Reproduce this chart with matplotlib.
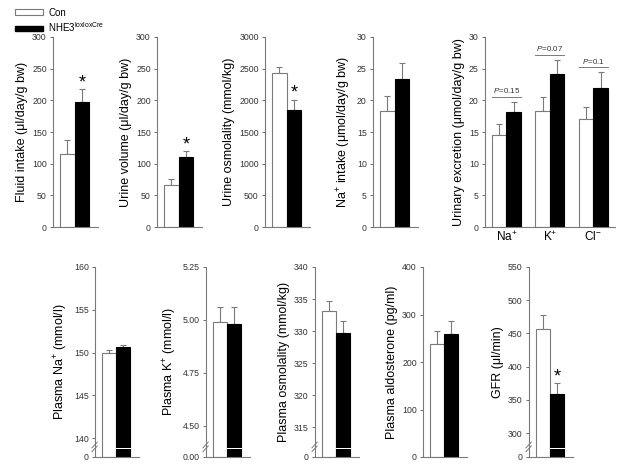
import numpy as np
import matplotlib.pyplot as plt
from matplotlib.patches import Patch

plt.rcParams['font.family'] = ['Liberation Sans', 'DejaVu Sans']
plt.rcParams['mathtext.fontset'] = 'custom'
plt.rcParams['mathtext.rm'] = 'Liberation Sans'
plt.rcParams['mathtext.it'] = 'Liberation Sans:italic'

# ---- data (mean, SEM) : Con vs NHE3 loxloxCre ----
fluid_mean = [115, 198]
fluid_err = [23, 20]
urine_vol_mean = [67, 110]
urine_vol_err = [9, 10]
urine_osm_mean = [2430, 1850]
urine_osm_err = [90, 160]
na_intake_mean = [18.3, 23.3]
na_intake_err = [2.4, 2.6]

ions = ['Na$^{+}$', 'K$^{+}$', 'Cl$^{-}$']
excr_con_mean = [14.6, 18.3, 17.0]
excr_con_err = [1.6, 2.2, 2.0]
excr_ko_mean = [18.2, 24.1, 22.0]
excr_ko_err = [1.6, 2.2, 2.4]
excr_p = ['0.15', '0.07', '0.1']

pna_mean = [149.9, 150.6]
pna_err = [0.4, 0.3]
pk_mean = [4.99, 4.98]
pk_err = [0.07, 0.08]
posm_mean = [333.2, 329.7]
posm_err = [1.5, 1.9]
aldo_mean = [237, 259]
aldo_err = [28, 27]
gfr_mean = [457, 358]
gfr_err = [20, 17]

GRAY = '#7a7a7a'
W, H = 624, 474
fig = plt.figure(figsize=(W / 100, H / 100), dpi=100)


def make_ax(left_px, top_px, width_px, height_px=190):
    return fig.add_axes([left_px / W, 1 - (top_px + height_px) / H,
                         width_px / W, height_px / H])


def style(ax, ylabel):
    for s in ['top', 'right']:
        ax.spines[s].set_visible(False)
    for s in ['left', 'bottom']:
        ax.spines[s].set_color(GRAY)
        ax.spines[s].set_linewidth(0.8)
    ax.tick_params(axis='y', labelsize=6.3, colors='#555555', length=2.5,
                   width=0.6, pad=2)
    ax.tick_params(axis='y', labelcolor='#333333')
    ax.set_ylabel(ylabel, fontsize=9, labelpad=3)


def pair(ax, means, errs, x0=0):
    xs = [x0, x0 + 1]
    ax.bar(xs, means, width=1.0, color=['white', 'black'],
           edgecolor=[GRAY, 'black'], linewidth=0.8, zorder=2)
    ax.errorbar(xs, means, yerr=[np.zeros(2), errs], fmt='none',
                ecolor=GRAY, elinewidth=0.8, capsize=2.5, capthick=0.8,
                zorder=1)


def star(ax, x, top):
    ax.annotate('*', (x, top), xytext=(0, -1.5), textcoords='offset points',
                ha='center', va='bottom', fontsize=13)


def broken_scale(ax, lo, hi, b):
    def fwd(v):
        v = np.asarray(v, dtype=float)
        return np.where(v < lo, v / lo * b, b + (v - lo) / (hi - lo) * (1 - b))

    def inv(f):
        f = np.asarray(f, dtype=float)
        return np.where(f < b, f / b * lo, lo + (f - b) / (1 - b) * (hi - lo))

    ax.set_yscale('function', functions=(fwd, inv))
    ax.set_ylim(0, hi)


def break_marks(ax, b, lo):
    # white gap across the black bar
    g0, g1 = lo * 0.72, lo * 0.86
    ax.bar([1], [g1 - g0], bottom=[g0], width=1.02, color='white',
           linewidth=0, zorder=3)
    for dy in (-0.012, 0.008):
        ax.plot([-0.07, 0.05], [b + dy - 0.015, b + dy + 0.015],
                transform=ax.transAxes, color=GRAY, lw=0.7, clip_on=False,
                zorder=5)


XL = (-0.97, 2.1)

# ---------- top row ----------
ax = make_ax(53, 37, 45)
pair(ax, fluid_mean, fluid_err)
star(ax, 1, fluid_mean[1] + fluid_err[1])
ax.set_ylim(0, 300)
ax.set_yticks(np.arange(0, 301, 50))
ax.set_xlim(*XL)
ax.set_xticks([])
style(ax, 'Fluid intake (μl/day/g bw)')

ax = make_ax(157, 37, 45)
pair(ax, urine_vol_mean, urine_vol_err)
star(ax, 1, urine_vol_mean[1] + urine_vol_err[1])
ax.set_ylim(0, 300)
ax.set_yticks(np.arange(0, 301, 50))
ax.set_xlim(*XL)
ax.set_xticks([])
style(ax, 'Urine volume (μl/day/g bw)')

ax = make_ax(265, 37, 45)
pair(ax, urine_osm_mean, urine_osm_err)
star(ax, 1, urine_osm_mean[1] + urine_osm_err[1])
ax.set_ylim(0, 3000)
ax.set_yticks(np.arange(0, 3001, 500))
ax.set_xlim(*XL)
ax.set_xticks([])
style(ax, 'Urine osmolality (mmol/kg)')

ax = make_ax(373, 37, 45)
pair(ax, na_intake_mean, na_intake_err)
ax.set_ylim(0, 30)
ax.set_yticks(np.arange(0, 31, 5))
ax.set_xlim(*XL)
ax.set_xticks([])
style(ax, 'Na$^{+}$ intake (μmol/day/g bw)')

ax = make_ax(485, 37, 130)
for i in range(3):
    pair(ax, [excr_con_mean[i], excr_ko_mean[i]],
         [excr_con_err[i], excr_ko_err[i]], x0=3 * i)
    ytop = max(excr_con_mean[i] + excr_con_err[i],
               excr_ko_mean[i] + excr_ko_err[i]) + 0.8
    ax.plot([3 * i - 0.5, 3 * i + 1.5], [ytop, ytop], color=GRAY, lw=0.7)
    ax.text(3 * i + 0.5, ytop + 0.3, '$P$=' + excr_p[i], ha='center',
            va='bottom', fontsize=5.8, color='#333333')
ax.set_ylim(0, 30)
ax.set_yticks(np.arange(0, 31, 5))
ax.set_xlim(-0.98, 8.0)
ax.set_xticks([0.5, 3.5, 6.5])
ax.set_xticklabels(ions, fontsize=8.5)
ax.tick_params(axis='x', length=0, pad=2)
style(ax, 'Urinary excretion (μmol/day/g bw)')

# ---------- bottom row ----------
B = 0.055

ax = make_ax(95, 267, 44)
broken_scale(ax, 139.0, 160, B)
pair(ax, pna_mean, pna_err)
break_marks(ax, B, 139.0)
ax.set_yticks([0, 140, 145, 150, 155, 160])
ax.set_xlim(*XL)
ax.set_xticks([])
style(ax, 'Plasma Na$^{+}$ (mmol/l)')

ax = make_ax(206, 267, 44)
broken_scale(ax, 4.403, 5.25, B)
pair(ax, pk_mean, pk_err)
break_marks(ax, B, 4.403)
ax.set_yticks([0, 4.5, 4.75, 5.0, 5.25])
ax.set_yticklabels(['0.00', '4.50', '4.75', '5.00', '5.25'])
ax.set_xlim(*XL)
ax.set_xticks([])
style(ax, 'Plasma K$^{+}$ (mmol/l)')

ax = make_ax(315, 267, 44)
broken_scale(ax, 311.95, 340, B)
pair(ax, posm_mean, posm_err)
break_marks(ax, B, 311.95)
ax.set_yticks([0, 315, 320, 325, 330, 335, 340])
ax.set_xlim(*XL)
ax.set_xticks([])
style(ax, 'Plasma osmolality (mmol/kg)')

ax = make_ax(423, 267, 44)
pair(ax, aldo_mean, aldo_err)
ax.set_ylim(0, 400)
ax.set_yticks(np.arange(0, 401, 100))
ax.set_xlim(*XL)
ax.set_xticks([])
style(ax, 'Plasma aldosterone (pg/ml)')

ax = make_ax(529, 267, 44)
broken_scale(ax, 279.6, 550, B)
pair(ax, gfr_mean, gfr_err)
break_marks(ax, B, 279.6)
star(ax, 1, gfr_mean[1] + gfr_err[1])
ax.set_yticks([0, 300, 350, 400, 450, 500, 550])
ax.set_xlim(*XL)
ax.set_xticks([])
style(ax, 'GFR (μl/min)')

# ---------- legend ----------
handles = [Patch(facecolor='white', edgecolor=GRAY, linewidth=0.8),
           Patch(facecolor='black', edgecolor='black')]
fig.legend(handles, ['Con', 'NHE3$^{\\mathrm{loxloxCre}}$'], loc='upper left',
           bbox_to_anchor=(0.012, 1.0), frameon=False, fontsize=7,
           handlelength=2.9, handleheight=0.55, labelspacing=0.25,
           handletextpad=0.5, borderpad=0.3)

fig.savefig('out.png', dpi=100)
